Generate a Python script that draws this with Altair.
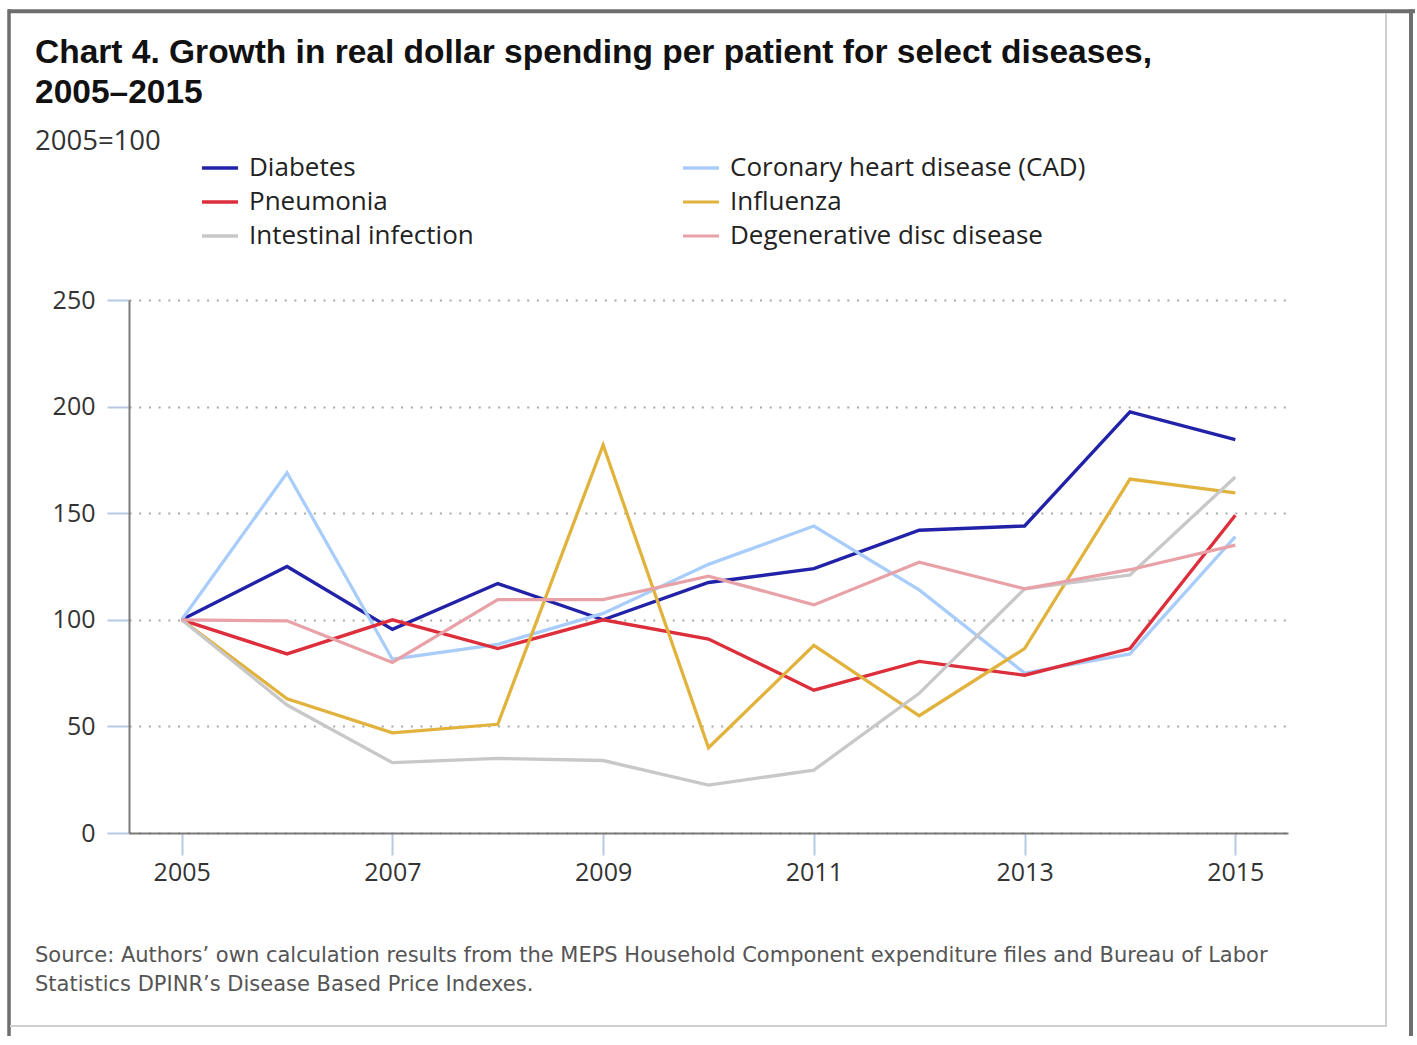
import altair as alt
import pandas as pd

# ---------------- data ----------------
YEARS = list(range(2005, 2016))
SERIES = [
    "Diabetes",
    "Coronary heart disease (CAD)",
    "Pneumonia",
    "Influenza",
    "Intestinal infection",
    "Degenerative disc disease",
]
# legend is filled column by column
LEGEND_ORDER = [
    "Diabetes",
    "Pneumonia",
    "Intestinal infection",
    "Coronary heart disease (CAD)",
    "Influenza",
    "Degenerative disc disease",
]
DIABETES = [100, 125, 95.5, 117, 100, 117.5, 124, 142, 144, 197.5, 184.5]
CAD = [100, 169, 81.5, 88.5, 103, 126, 144, 114, 75, 84, 139]
PNEUMONIA = [100, 84, 100, 86.5, 100, 91, 67, 80.5, 74, 86.5, 149]
INFLUENZA = [100, 63, 47, 51, 182, 40, 88, 55, 86.5, 166, 159.5]
INTESTINAL = [100, 60, 33, 35, 34, 22.5, 29.5, 65.5, 114.5, 121, 167]
DEGENERATIVE = [100, 99.5, 80, 109.5, 109.5, 120.5, 107, 127, 114.5, 123.5, 135]

COLOR_OF = {
    "Diabetes": "#2222a8",
    "Coronary heart disease (CAD)": "#a9cdfb",
    "Pneumonia": "#dc2f3b",
    "Influenza": "#e1b23c",
    "Intestinal infection": "#c8c8c8",
    "Degenerative disc disease": "#e8a2a7",
}
WIDTH_OF = {
    "Diabetes": 3.4,
    "Coronary heart disease (CAD)": 2.8,
    "Pneumonia": 3.2,
    "Influenza": 2.8,
    "Intestinal infection": 2.8,
    "Degenerative disc disease": 2.8,
}

X_TICKS = [2005, 2007, 2009, 2011, 2013, 2015]
Y_TICKS = [0, 50, 100, 150, 200, 250]

TITLE_LINE1 = "Chart 4. Growth in real dollar spending per patient for select diseases,"
TITLE_LINE2 = "2005\u20132015"
SUBTITLE = "2005=100"
SOURCE_LINE1 = ("Source: Authors\u2019 own calculation results from the MEPS Household "
                "Component expenditure files and Bureau of Labor")
SOURCE_LINE2 = "Statistics DPINR\u2019s Disease Based Price Indexes."

values = [DIABETES, CAD, PNEUMONIA, INFLUENZA, INTESTINAL, DEGENERATIVE]
rows = []
for name, vals in zip(SERIES, values):
    for yr, v in zip(YEARS, vals):
        rows.append({"year": yr, "series": name, "value": v})
df = pd.DataFrame(rows)

W, H = 1159, 533
FONT = "Open Sans"

lines = alt.Chart(df).mark_line().encode(
    x=alt.X(
        "year:Q",
        scale=alt.Scale(domain=[2004.5, 2015.5], nice=False, zero=False),
        axis=alt.Axis(
            values=X_TICKS, format="d", title=None, grid=False,
            domainColor="#7a7a7a", domainWidth=2,
            tickColor="#b7c9e2", tickSize=22, tickWidth=2,
            labelFont=FONT, labelFontSize=25, labelColor="#333333",
            labelPadding=5, labelFlush=False, labelOverlap=False,
        ),
    ),
    y=alt.Y(
        "value:Q",
        scale=alt.Scale(domain=[0, 250], nice=False),
        axis=alt.Axis(
            values=Y_TICKS, title=None, grid=True,
            gridColor="#a8a8a8", gridDash=[2, 7.7], gridWidth=2,
            domainColor="#7a7a7a", domainWidth=2,
            tickColor="#b7c9e2", tickSize=22, tickWidth=2,
            labelFont=FONT, labelFontSize=25, labelColor="#333333",
            labelPadding=12,
        ),
    ),
    color=alt.Color(
        "series:N",
        scale=alt.Scale(domain=LEGEND_ORDER, range=[COLOR_OF[s] for s in LEGEND_ORDER]),
        legend=alt.Legend(
            title=None, orient="none", legendX=71, legendY=-152,
            columns=2, columnPadding=202, rowPadding=1,
            symbolType="stroke", symbolSize=1296, symbolStrokeWidth=4,
            labelFont=FONT, labelFontSize=26, labelColor="#222222",
            labelOffset=9, padding=0, labelLimit=600,
        ),
    ),
    strokeWidth=alt.StrokeWidth(
        "series:N",
        scale=alt.Scale(domain=LEGEND_ORDER, range=[WIDTH_OF[s] for s in LEGEND_ORDER]),
        legend=None,
    ),
)


def text_line(txt, x, y, size, color, font=FONT, weight="normal"):
    return alt.Chart(pd.DataFrame({"t": [txt]})).mark_text(
        align="left", baseline="alphabetic", font=font, fontSize=size,
        fontWeight=weight, color=color,
    ).encode(text="t:N", x=alt.value(x), y=alt.value(y))


def hrule(x1, x2, y, color, w):
    return alt.Chart(pd.DataFrame({"k": [0]})).mark_rule(color=color, strokeWidth=w).encode(
        x=alt.value(x1), x2=alt.value(x2), y=alt.value(y)
    )


def vrule(x, y1, y2, color, w):
    return alt.Chart(pd.DataFrame({"k": [0]})).mark_rule(color=color, strokeWidth=w).encode(
        x=alt.value(x), y=alt.value(y1), y2=alt.value(y2)
    )


OX, OY = 129, 300  # plot origin on the page
frame = [
    hrule(8 - OX, 1417 - OX, 11.3 - OY, "#6e6e6e", 4),
    vrule(9 - OX, 9.3 - OY, 1045 - OY, "#6e6e6e", 3.5),
    vrule(1411 - OX, 9.3 - OY, 1045 - OY, "#6e6e6e", 4),
    vrule(1386 - OX, 13 - OY, 1026 - OY, "#cfcfcf", 2),
    hrule(10 - OX, 1387 - OX, 1026 - OY, "#cfcfcf", 2),
]

texts = [
    text_line(TITLE_LINE1, 35 - OX, 63 - OY, 33.5, "#111111", font="Liberation Sans", weight="bold"),
    text_line(TITLE_LINE2, 35 - OX, 103 - OY, 33.5, "#111111", font="Liberation Sans", weight="bold"),
    text_line(SUBTITLE, 35 - OX, 150 - OY, 27.5, "#333333"),
    text_line(SOURCE_LINE1, 35 - OX, 962 - OY, 21, "#555555", font="DejaVu Sans"),
    text_line(SOURCE_LINE2, 35 - OX, 991 - OY, 21, "#555555", font="DejaVu Sans"),
]

chart = alt.layer(*frame, lines, *texts).properties(
    width=W,
    height=H,
    padding={"left": OX, "top": OY, "right": 1415 - OX - W, "bottom": 1036 - OY - H},
    autosize=alt.AutoSizeParams(type="none"),
    background="white",
).configure_view(stroke=None)

chart.save("out.html", embed_options={"renderer": "svg", "actions": False})
